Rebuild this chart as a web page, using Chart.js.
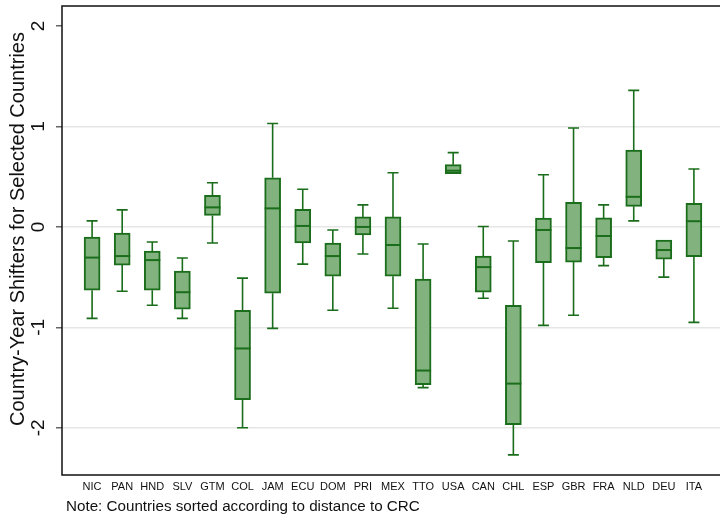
<!DOCTYPE html>
<html>
<head>
<meta charset="utf-8">
<script src="https://cdn.jsdelivr.net/npm/chart.js@4"></script>
<style>
  html, body { margin: 0; padding: 0; background: #fff; overflow: hidden; }
  #wrap { width: 726px; height: 515px; }
</style>
</head>
<body>
<div id="wrap"><canvas id="myChart" width="726" height="515"></canvas></div>
<script>
// countries, in order of distance to CRC
const countries = ['NIC','PAN','HND','SLV','GTM','COL','JAM','ECU','DOM','PRI','MEX','TTO','USA','CAN','CHL','ESP','GBR','FRA','NLD','DEU','ITA'];

// box plot stats
const whiskerLow  = [-0.91,-0.64,-0.78,-0.91,-0.16,-2.00,-1.01,-0.37,-0.83,-0.27,-0.81,-1.60, 0.53,-0.71,-2.27,-0.98,-0.88,-0.385,0.06,-0.50,-0.95];
const q1          = [-0.63,-0.38,-0.63,-0.82, 0.115,-1.72,-0.66,-0.16,-0.49,-0.08,-0.49,-1.57, 0.53,-0.65,-1.97,-0.355,-0.35,-0.305,0.205,-0.32,-0.295];
const median      = [-0.305,-0.29,-0.33,-0.65,0.195,-1.21,0.185,0.01,-0.29,0.00,-0.18,-1.43, 0.56,-0.40,-1.56,-0.03,-0.21,-0.09, 0.30,-0.23, 0.057];
const q3          = [-0.10,-0.06,-0.24,-0.44, 0.315,-0.83,0.49, 0.176,-0.16,0.10, 0.10,-0.52, 0.62,-0.29,-0.78, 0.087,0.245,0.09, 0.765,-0.13,0.235];
const whiskerHigh = [ 0.06, 0.17,-0.15,-0.31, 0.44,-0.51,1.03, 0.375,-0.03,0.22, 0.54,-0.17, 0.74, 0.005,-0.14,0.52, 0.985,0.22, 1.36,-0.13, 0.577];

const yTicks = [-2, -1, 0, 1, 2];

const lineGreen = '#1a6d1a';
const fillGreen = '#82b37f';
const fontFam = "'Liberation Sans', Arial, sans-serif";

// whiskers, caps and medians drawn on top of the bars
const boxExtras = {
  id: 'boxExtras',
  afterDatasetsDraw(chart) {
    const ctx = chart.ctx;
    const xs = chart.scales.x, ys = chart.scales.y;
    ctx.save();
    ctx.strokeStyle = lineGreen;
    countries.forEach((c, i) => {
      const x = xs.getPixelForValue(i + 1);
      const yLo = ys.getPixelForValue(whiskerLow[i]);
      const yHi = ys.getPixelForValue(whiskerHigh[i]);
      const yQ1 = ys.getPixelForValue(q1[i]);
      const yQ3 = ys.getPixelForValue(q3[i]);
      const yMed = ys.getPixelForValue(median[i]);
      ctx.lineWidth = 1.6;
      ctx.beginPath();
      if (yHi < yQ3 - 0.5) {
        ctx.moveTo(x, yQ3); ctx.lineTo(x, yHi);
        ctx.moveTo(x - 5.5, yHi); ctx.lineTo(x + 5.5, yHi);
      }
      if (yLo > yQ1 + 0.5) {
        ctx.moveTo(x, yQ1); ctx.lineTo(x, yLo);
        ctx.moveTo(x - 5.5, yLo); ctx.lineTo(x + 5.5, yLo);
      }
      ctx.stroke();
      ctx.lineWidth = 2;
      ctx.beginPath();
      ctx.moveTo(x - 8, yMed); ctx.lineTo(x + 8, yMed);
      ctx.stroke();
    });
    ctx.restore();
  },
  afterDraw(chart) {
    const ctx = chart.ctx;
    const a = chart.chartArea;
    const ys = chart.scales.y;
    ctx.save();
    // frame
    ctx.strokeStyle = '#111';
    ctx.lineWidth = 1.5;
    ctx.strokeRect(a.left, a.top, a.right - a.left, a.bottom - a.top);
    // rotated y tick labels
    ctx.fillStyle = '#111';
    ctx.font = '19px ' + fontFam;
    ctx.textAlign = 'center';
    ctx.textBaseline = 'middle';
    yTicks.forEach(v => {
      ctx.save();
      ctx.translate(39, ys.getPixelForValue(v));
      ctx.rotate(-Math.PI / 2);
      ctx.fillText(String(v), 0, 0);
      ctx.restore();
    });
    // y title
    ctx.font = '20px ' + fontFam;
    ctx.save();
    ctx.translate(18, 229);
    ctx.rotate(-Math.PI / 2);
    ctx.fillText('Country-Year Shifters for Selected Countries', 0, 0);
    ctx.restore();
    // note
    ctx.font = '15.2px ' + fontFam;
    ctx.textAlign = 'left';
    ctx.fillText('Note: Countries sorted according to distance to CRC', 66, 507);
    ctx.restore();
  }
};

const ctx = document.getElementById('myChart').getContext('2d');
const myChart = new Chart(ctx, {
  type: 'bar',
  data: {
    datasets: [{
      label: 'box',
      data: countries.map((c, i) => ({ x: i + 1, y: [q1[i], q3[i]] })),
      backgroundColor: fillGreen,
      borderColor: lineGreen,
      borderWidth: 2,
      borderSkipped: false,
      barThickness: 16
    }]
  },
  options: {
    responsive: false,
    animation: false,
    layout: { padding: { top: 6, right: 2, left: 0, bottom: 0 } },
    plugins: {
      legend: { display: false },
      tooltip: { enabled: false }
    },
    scales: {
      x: {
        type: 'linear',
        offset: false,
        min: 0,
        max: 22,
        afterBuildTicks: scale => { scale.ticks = countries.map((c, i) => ({ value: i + 1 })); },
        afterFit: scale => { scale.height = 40; },
        grid: { display: false, drawTicks: false, offset: false },
        border: { display: false },
        ticks: {
          autoSkip: false,
          maxRotation: 0,
          padding: 5,
          color: '#111',
          font: { size: 11, family: fontFam },
          callback: v => countries[v - 1] || ''
        }
      },
      y: {
        min: -2.47,
        max: 2.2,
        afterBuildTicks: scale => { scale.ticks = yTicks.map(v => ({ value: v })); },
        afterFit: scale => { scale.width = 62; },
        grid: {
          color: c => (c.tick && c.tick.value === 2) ? 'rgba(0,0,0,0)' : '#e6e6e6',
          lineWidth: 1.5,
          tickColor: '#666',
          tickLength: 6
        },
        border: { display: false },
        ticks: { display: false }
      }
    }
  },
  plugins: [boxExtras]
});
</script>
</body>
</html>
